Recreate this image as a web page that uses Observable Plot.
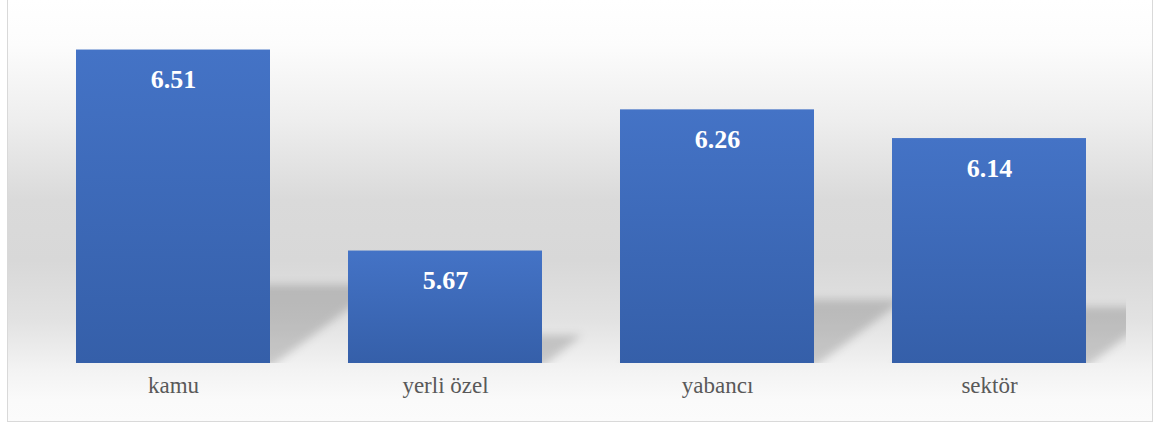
<!DOCTYPE html>
<html>
<head>
<meta charset="utf-8">
<script src="https://cdn.jsdelivr.net/npm/d3@7"></script>
<script src="https://cdn.jsdelivr.net/npm/@observablehq/plot@0.6"></script>
<style>
  html, body { margin: 0; padding: 0; background: #ffffff; width: 1163px; height: 423px; overflow: hidden; }
  #frame {
    position: absolute; left: 7px; top: -1px; width: 1146px; height: 423px;
    box-sizing: border-box; border: 1px solid #d9d9d9;
    background: linear-gradient(to bottom, #ffffff 0px, #fcfcfc 45px, #eeeeee 120px, #dadada 200px, #d8d8d8 260px, #e2e2e2 320px, #f3f3f3 370px, #fafafa 400px, #fbfbfb 423px);
  }
  #chart { position: absolute; left: 0; top: 0; }
  #chart svg, #chart svg text { font-family: "Liberation Serif", "Times New Roman", serif !important; }
</style>
</head>
<body>
<div id="frame"></div>
<div id="chart"></div>
<script>
const categories = ["kamu", "yerli özel", "yabancı", "sektör"];
const values = [6.51, 5.67, 6.26, 6.14];
const yDomain = [5.2, 6.6];

const data = categories.map((c, i) => ({cat: c, value: values[i]}));

const defs = () => {
  const g = d3.create("svg:defs");
  const lg = g.append("linearGradient").attr("id", "barGrad").attr("x1", 0).attr("y1", 0).attr("x2", 0).attr("y2", 1);
  lg.append("stop").attr("offset", "0%").attr("stop-color", "#4473c6");
  lg.append("stop").attr("offset", "100%").attr("stop-color", "#355fa9");
  const f = g.append("filter").attr("id", "shBlur").attr("x", "-20%").attr("y", "-20%").attr("width", "140%").attr("height", "140%");
  f.append("feGaussianBlur").attr("stdDeviation", 4);
  return g.node();
};

const shadows = (index, scales, vals, dimensions) => {
  const {x, y} = scales;
  const bw = x.bandwidth();
  const base = y(yDomain[0]);
  const right = dimensions.width - dimensions.marginRight;
  const g = d3.create("svg:g");
  const cp = g.append("clipPath").attr("id", "shClip");
  cp.append("rect").attr("x", dimensions.marginLeft).attr("y", 0)
    .attr("width", right - dimensions.marginLeft).attr("height", base);
  const inner = g.append("g").attr("clip-path", "url(#shClip)");
  const gg = inner.append("g").attr("filter", "url(#shBlur)");
  data.forEach(d => {
    const L = x(d.cat), R = L + bw, T = y(d.value);
    const h = (base - T) * 0.25;
    const s = 1.42 * h;
    const pts = [[L, base + 4], [R, base + 4], [R + s, base - h], [L + s, base - h]];
    gg.append("polygon").attr("points", pts.map(p => p.join(",")).join(" "))
      .attr("fill", "#000").attr("fill-opacity", 0.17);
  });
  return g.node();
};

const serif = "'Liberation Serif', 'Times New Roman', serif";

const chart = Plot.plot({
  width: 1163,
  height: 423,
  marginTop: 28,
  marginBottom: 60,
  marginLeft: 36,
  marginRight: 37,
  style: {background: "transparent", overflow: "visible", fontFamily: serif},
  x: {domain: categories, paddingInner: 0.287, paddingOuter: 0.1435, axis: null},
  y: {domain: yDomain, axis: null},
  marks: [
    defs,
    shadows,
    Plot.barY(data, {x: "cat", y1: () => yDomain[0], y2: "value", fill: "url(#barGrad)"}),
    Plot.text(data, {x: "cat", y: "value", text: d => d.value.toFixed(2), dy: 30,
      fill: "#ffffff", fontSize: 26, fontWeight: "bold", fontFamily: serif}),
    Plot.text(data, {x: "cat", frameAnchor: "bottom", text: "cat", dy: 29,
      fill: "#595959", fontSize: 23, fontFamily: serif})
  ]
});
document.getElementById("chart").appendChild(chart);
</script>
</body>
</html>
